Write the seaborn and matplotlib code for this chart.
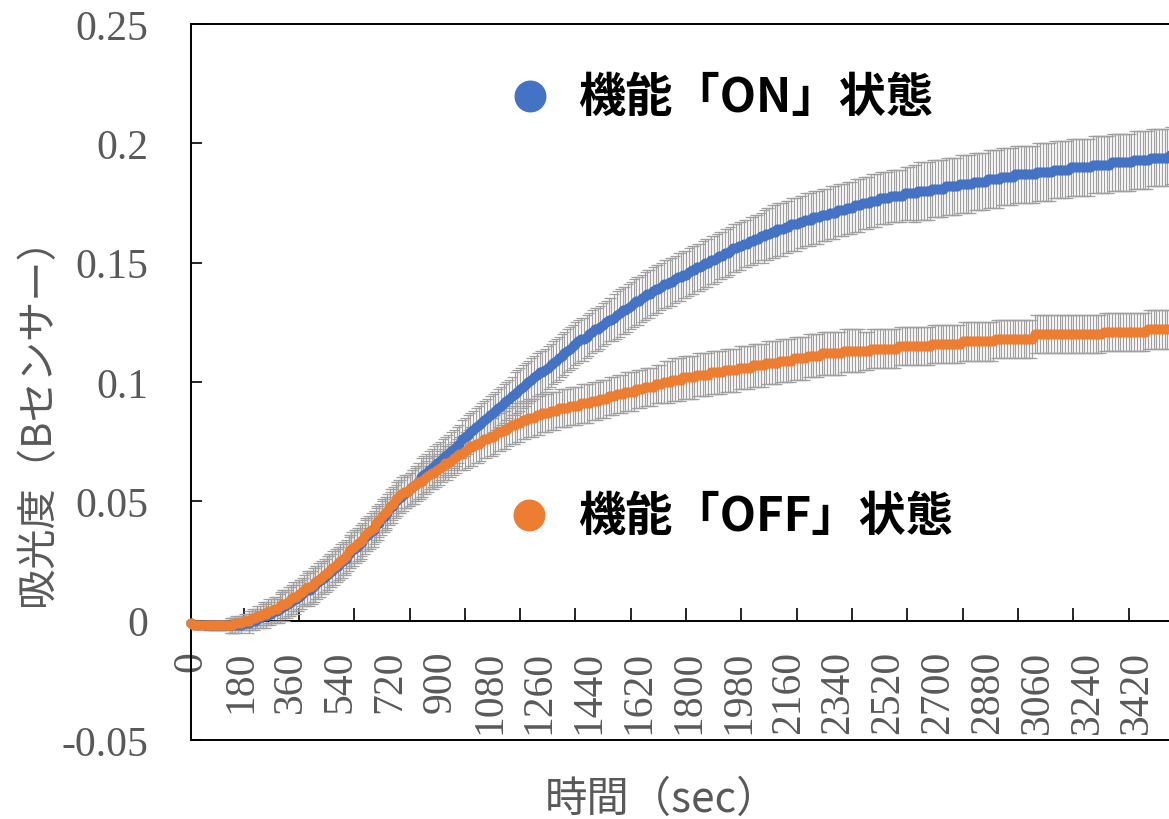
import numpy as np
import pandas as pd
import matplotlib
matplotlib.use("Agg")
import matplotlib.pyplot as plt
import seaborn as sns

# ---------------- data (absorbance, B sensor), one value every 10 s ----------------
time_step_sec = 10
on_mean = [
    -0.001, -0.002, -0.002, -0.002, -0.002, -0.002, -0.002, -0.002, -0.002, -0.002, -0.002, -0.002, -0.002, -0.002, -0.002, -0.002, -0.002, -0.002,
    -0.002, -0.001, -0.001, -0.001, 0.000, 0.000, 0.001, 0.001, 0.002, 0.002, 0.003, 0.003, 0.004, 0.004, 0.005, 0.006, 0.006, 0.007,
    0.008, 0.009, 0.009, 0.010, 0.011, 0.012, 0.013, 0.013, 0.014, 0.015, 0.016, 0.017, 0.018, 0.019, 0.020, 0.021, 0.022, 0.023,
    0.024, 0.025, 0.026, 0.028, 0.029, 0.030, 0.031, 0.032, 0.033, 0.035, 0.036, 0.037, 0.038, 0.040, 0.041, 0.043, 0.044, 0.045,
    0.047, 0.048, 0.050, 0.051, 0.052, 0.053, 0.054, 0.055, 0.056, 0.057, 0.058, 0.060, 0.061, 0.062, 0.063, 0.064, 0.065, 0.066,
    0.067, 0.068, 0.069, 0.070, 0.071, 0.072, 0.073, 0.074, 0.076, 0.077, 0.078, 0.079, 0.080, 0.081, 0.082, 0.083, 0.084, 0.085,
    0.086, 0.087, 0.088, 0.089, 0.090, 0.091, 0.092, 0.093, 0.094, 0.095, 0.096, 0.097, 0.098, 0.099, 0.100, 0.101, 0.102, 0.103,
    0.104, 0.104, 0.105, 0.106, 0.107, 0.108, 0.109, 0.110, 0.111, 0.112, 0.113, 0.114, 0.115, 0.116, 0.117, 0.118, 0.118, 0.119,
    0.120, 0.121, 0.122, 0.122, 0.123, 0.124, 0.125, 0.126, 0.126, 0.127, 0.128, 0.129, 0.130, 0.130, 0.131, 0.132, 0.133, 0.134,
    0.134, 0.135, 0.136, 0.137, 0.137, 0.138, 0.139, 0.139, 0.140, 0.141, 0.141, 0.142, 0.142, 0.143, 0.144, 0.144, 0.145, 0.145,
    0.146, 0.147, 0.147, 0.148, 0.148, 0.149, 0.150, 0.150, 0.151, 0.151, 0.152, 0.153, 0.153, 0.154, 0.154, 0.155, 0.156, 0.156,
    0.157, 0.157, 0.158, 0.158, 0.159, 0.159, 0.160, 0.160, 0.161, 0.161, 0.162, 0.162, 0.163, 0.163, 0.164, 0.164, 0.164, 0.165,
    0.165, 0.166, 0.166, 0.166, 0.167, 0.167, 0.168, 0.168, 0.168, 0.169, 0.169, 0.169, 0.170, 0.170, 0.170, 0.171, 0.171, 0.171,
    0.172, 0.172, 0.172, 0.173, 0.173, 0.173, 0.174, 0.174, 0.174, 0.175, 0.175, 0.175, 0.176, 0.176, 0.176, 0.177, 0.177, 0.177,
    0.177, 0.178, 0.178, 0.178, 0.178, 0.178, 0.179, 0.179, 0.179, 0.179, 0.179, 0.180, 0.180, 0.180, 0.180, 0.180, 0.181, 0.181,
    0.181, 0.181, 0.181, 0.182, 0.182, 0.182, 0.182, 0.182, 0.183, 0.183, 0.183, 0.183, 0.183, 0.184, 0.184, 0.184, 0.184, 0.184,
    0.185, 0.185, 0.185, 0.185, 0.185, 0.186, 0.186, 0.186, 0.186, 0.186, 0.187, 0.187, 0.187, 0.187, 0.187, 0.187, 0.187, 0.187,
    0.188, 0.188, 0.188, 0.188, 0.188, 0.188, 0.189, 0.189, 0.189, 0.189, 0.189, 0.189, 0.190, 0.190, 0.190, 0.190, 0.190, 0.190,
    0.190, 0.190, 0.191, 0.191, 0.191, 0.191, 0.191, 0.191, 0.191, 0.192, 0.192, 0.192, 0.192, 0.192, 0.192, 0.192, 0.192, 0.193,
    0.193, 0.193, 0.193, 0.193, 0.193, 0.194, 0.194, 0.194, 0.194, 0.194, 0.194, 0.194, 0.195,
]
on_err = [
    0.001, 0.001, 0.001, 0.001, 0.001, 0.001, 0.002, 0.002, 0.002, 0.002, 0.002, 0.002, 0.002, 0.002, 0.003, 0.003, 0.003, 0.003,
    0.003, 0.003, 0.003, 0.004, 0.004, 0.004, 0.004, 0.004, 0.005, 0.005, 0.005, 0.005, 0.005, 0.005, 0.006, 0.006, 0.006, 0.006,
    0.006, 0.006, 0.006, 0.006, 0.006, 0.006, 0.007, 0.007, 0.007, 0.007, 0.007, 0.007, 0.007, 0.007, 0.007, 0.007, 0.007, 0.007,
    0.007, 0.007, 0.007, 0.007, 0.007, 0.007, 0.007, 0.007, 0.007, 0.007, 0.007, 0.007, 0.007, 0.007, 0.007, 0.007, 0.007, 0.007,
    0.007, 0.007, 0.007, 0.007, 0.007, 0.007, 0.007, 0.007, 0.007, 0.008, 0.008, 0.008, 0.008, 0.008, 0.008, 0.008, 0.008, 0.008,
    0.008, 0.008, 0.008, 0.008, 0.008, 0.008, 0.008, 0.008, 0.008, 0.008, 0.008, 0.008, 0.008, 0.008, 0.008, 0.008, 0.008, 0.008,
    0.008, 0.008, 0.008, 0.008, 0.008, 0.008, 0.008, 0.008, 0.008, 0.009, 0.009, 0.009, 0.009, 0.009, 0.009, 0.009, 0.009, 0.009,
    0.009, 0.009, 0.009, 0.009, 0.009, 0.009, 0.009, 0.009, 0.009, 0.009, 0.009, 0.009, 0.009, 0.009, 0.009, 0.009, 0.009, 0.009,
    0.009, 0.009, 0.009, 0.009, 0.009, 0.009, 0.009, 0.009, 0.009, 0.010, 0.010, 0.010, 0.010, 0.010, 0.010, 0.010, 0.010, 0.010,
    0.010, 0.010, 0.010, 0.010, 0.010, 0.010, 0.010, 0.010, 0.010, 0.010, 0.010, 0.010, 0.010, 0.010, 0.010, 0.010, 0.010, 0.010,
    0.010, 0.010, 0.010, 0.010, 0.010, 0.010, 0.010, 0.010, 0.010, 0.010, 0.010, 0.010, 0.010, 0.010, 0.010, 0.010, 0.010, 0.010,
    0.010, 0.010, 0.010, 0.010, 0.010, 0.010, 0.010, 0.010, 0.010, 0.011, 0.011, 0.011, 0.011, 0.011, 0.011, 0.011, 0.011, 0.011,
    0.011, 0.011, 0.011, 0.011, 0.011, 0.011, 0.011, 0.011, 0.011, 0.011, 0.011, 0.011, 0.011, 0.011, 0.011, 0.011, 0.011, 0.011,
    0.011, 0.011, 0.011, 0.011, 0.011, 0.011, 0.011, 0.011, 0.011, 0.011, 0.011, 0.011, 0.011, 0.011, 0.011, 0.011, 0.011, 0.011,
    0.011, 0.011, 0.011, 0.011, 0.011, 0.011, 0.011, 0.011, 0.011, 0.012, 0.012, 0.012, 0.012, 0.012, 0.012, 0.012, 0.012, 0.012,
    0.012, 0.012, 0.012, 0.012, 0.012, 0.012, 0.012, 0.012, 0.012, 0.012, 0.012, 0.012, 0.012, 0.012, 0.012, 0.012, 0.012, 0.012,
    0.012, 0.012, 0.012, 0.012, 0.012, 0.012, 0.012, 0.012, 0.012, 0.012, 0.012, 0.012, 0.012, 0.012, 0.012, 0.012, 0.012, 0.012,
    0.012, 0.012, 0.012, 0.012, 0.012, 0.012, 0.012, 0.012, 0.012, 0.012, 0.012, 0.012, 0.012, 0.012, 0.012, 0.012, 0.012, 0.012,
    0.012, 0.012, 0.012, 0.012, 0.012, 0.012, 0.012, 0.012, 0.012, 0.012, 0.012, 0.012, 0.012, 0.012, 0.012, 0.012, 0.012, 0.012,
    0.012, 0.012, 0.012, 0.012, 0.012, 0.012, 0.012, 0.012, 0.012, 0.012, 0.012, 0.012, 0.012,
]
off_mean = [
    -0.001, -0.002, -0.002, -0.002, -0.002, -0.002, -0.002, -0.002, -0.002, -0.002, -0.002, -0.002, -0.002, -0.002, -0.002, -0.002, -0.001, -0.001,
    -0.001, 0.000, 0.000, 0.000, 0.001, 0.001, 0.002, 0.002, 0.003, 0.003, 0.004, 0.004, 0.005, 0.005, 0.006, 0.007, 0.007, 0.008,
    0.009, 0.010, 0.010, 0.011, 0.012, 0.013, 0.014, 0.014, 0.015, 0.016, 0.017, 0.018, 0.019, 0.020, 0.021, 0.022, 0.023, 0.024,
    0.025, 0.026, 0.027, 0.029, 0.030, 0.031, 0.032, 0.033, 0.034, 0.036, 0.037, 0.038, 0.039, 0.041, 0.042, 0.044, 0.045, 0.046,
    0.048, 0.049, 0.051, 0.052, 0.053, 0.054, 0.054, 0.055, 0.056, 0.057, 0.058, 0.058, 0.059, 0.060, 0.061, 0.062, 0.062, 0.063,
    0.064, 0.065, 0.066, 0.066, 0.067, 0.068, 0.069, 0.070, 0.070, 0.071, 0.072, 0.073, 0.073, 0.074, 0.074, 0.075, 0.076, 0.076,
    0.077, 0.077, 0.078, 0.079, 0.079, 0.080, 0.080, 0.081, 0.082, 0.082, 0.083, 0.083, 0.084, 0.084, 0.085, 0.085, 0.085, 0.086,
    0.086, 0.087, 0.087, 0.087, 0.088, 0.088, 0.088, 0.089, 0.089, 0.089, 0.089, 0.090, 0.090, 0.090, 0.090, 0.091, 0.091, 0.091,
    0.091, 0.092, 0.092, 0.092, 0.093, 0.093, 0.093, 0.094, 0.094, 0.094, 0.095, 0.095, 0.095, 0.096, 0.096, 0.096, 0.096, 0.097,
    0.097, 0.097, 0.098, 0.098, 0.098, 0.098, 0.099, 0.099, 0.099, 0.100, 0.100, 0.100, 0.101, 0.101, 0.101, 0.101, 0.102, 0.102,
    0.102, 0.102, 0.102, 0.103, 0.103, 0.103, 0.103, 0.103, 0.104, 0.104, 0.104, 0.104, 0.104, 0.105, 0.105, 0.105, 0.105, 0.105,
    0.106, 0.106, 0.106, 0.106, 0.106, 0.107, 0.107, 0.107, 0.107, 0.107, 0.108, 0.108, 0.108, 0.108, 0.108, 0.109, 0.109, 0.109,
    0.109, 0.109, 0.110, 0.110, 0.110, 0.110, 0.110, 0.111, 0.111, 0.111, 0.111, 0.111, 0.112, 0.112, 0.112, 0.112, 0.112, 0.112,
    0.112, 0.112, 0.113, 0.113, 0.113, 0.113, 0.113, 0.113, 0.113, 0.113, 0.113, 0.113, 0.114, 0.114, 0.114, 0.114, 0.114, 0.114,
    0.114, 0.114, 0.114, 0.114, 0.115, 0.115, 0.115, 0.115, 0.115, 0.115, 0.115, 0.115, 0.115, 0.115, 0.115, 0.115, 0.116, 0.116,
    0.116, 0.116, 0.116, 0.116, 0.116, 0.116, 0.116, 0.116, 0.116, 0.117, 0.117, 0.117, 0.117, 0.117, 0.117, 0.117, 0.117, 0.117,
    0.117, 0.117, 0.117, 0.118, 0.118, 0.118, 0.118, 0.118, 0.118, 0.118, 0.118, 0.118, 0.118, 0.118, 0.118, 0.118, 0.118, 0.120,
    0.120, 0.120, 0.120, 0.120, 0.120, 0.120, 0.120, 0.120, 0.120, 0.120, 0.120, 0.120, 0.120, 0.120, 0.120, 0.120, 0.120, 0.120,
    0.120, 0.120, 0.120, 0.120, 0.120, 0.120, 0.121, 0.121, 0.121, 0.121, 0.121, 0.121, 0.121, 0.121, 0.121, 0.121, 0.121, 0.121,
    0.121, 0.121, 0.121, 0.121, 0.122, 0.122, 0.122, 0.122, 0.122, 0.122, 0.122, 0.122, 0.122,
]
off_err = [
    0.001, 0.001, 0.001, 0.001, 0.001, 0.001, 0.002, 0.002, 0.002, 0.002, 0.002, 0.002, 0.002, 0.002, 0.003, 0.003, 0.003, 0.003,
    0.003, 0.003, 0.003, 0.004, 0.004, 0.004, 0.004, 0.004, 0.005, 0.005, 0.005, 0.005, 0.005, 0.005, 0.006, 0.006, 0.006, 0.006,
    0.006, 0.006, 0.006, 0.006, 0.006, 0.006, 0.007, 0.007, 0.007, 0.007, 0.007, 0.007, 0.007, 0.007, 0.007, 0.007, 0.007, 0.007,
    0.007, 0.007, 0.007, 0.007, 0.007, 0.007, 0.007, 0.007, 0.007, 0.007, 0.007, 0.007, 0.007, 0.007, 0.007, 0.007, 0.007, 0.007,
    0.007, 0.007, 0.007, 0.007, 0.007, 0.007, 0.007, 0.007, 0.007, 0.007, 0.007, 0.007, 0.007, 0.007, 0.007, 0.007, 0.007, 0.007,
    0.007, 0.007, 0.007, 0.007, 0.007, 0.007, 0.007, 0.007, 0.007, 0.008, 0.008, 0.008, 0.008, 0.008, 0.008, 0.008, 0.008, 0.008,
    0.008, 0.008, 0.008, 0.008, 0.008, 0.008, 0.008, 0.008, 0.008, 0.008, 0.008, 0.008, 0.008, 0.008, 0.008, 0.008, 0.008, 0.008,
    0.008, 0.008, 0.008, 0.008, 0.008, 0.008, 0.008, 0.008, 0.008, 0.008, 0.008, 0.008, 0.008, 0.008, 0.008, 0.008, 0.008, 0.008,
    0.008, 0.008, 0.008, 0.008, 0.008, 0.008, 0.008, 0.008, 0.008, 0.008, 0.008, 0.008, 0.008, 0.008, 0.008, 0.008, 0.008, 0.008,
    0.008, 0.008, 0.008, 0.008, 0.008, 0.008, 0.008, 0.008, 0.008, 0.009, 0.009, 0.009, 0.009, 0.009, 0.009, 0.009, 0.009, 0.009,
    0.009, 0.009, 0.009, 0.009, 0.009, 0.009, 0.009, 0.009, 0.009, 0.009, 0.009, 0.009, 0.009, 0.009, 0.009, 0.009, 0.009, 0.009,
    0.009, 0.009, 0.009, 0.009, 0.009, 0.009, 0.009, 0.009, 0.009, 0.009, 0.009, 0.009, 0.009, 0.009, 0.009, 0.009, 0.009, 0.009,
    0.009, 0.009, 0.009, 0.009, 0.009, 0.009, 0.009, 0.009, 0.009, 0.009, 0.009, 0.009, 0.009, 0.009, 0.009, 0.009, 0.009, 0.009,
    0.009, 0.009, 0.009, 0.009, 0.009, 0.009, 0.009, 0.009, 0.009, 0.008, 0.008, 0.008, 0.008, 0.008, 0.008, 0.008, 0.008, 0.008,
    0.008, 0.008, 0.008, 0.008, 0.008, 0.008, 0.008, 0.008, 0.008, 0.008, 0.008, 0.008, 0.008, 0.008, 0.008, 0.008, 0.008, 0.008,
    0.008, 0.008, 0.008, 0.008, 0.008, 0.008, 0.008, 0.008, 0.008, 0.008, 0.008, 0.008, 0.008, 0.008, 0.008, 0.008, 0.008, 0.008,
    0.008, 0.008, 0.008, 0.008, 0.008, 0.008, 0.008, 0.008, 0.008, 0.008, 0.008, 0.008, 0.008, 0.008, 0.008, 0.008, 0.008, 0.008,
    0.008, 0.008, 0.008, 0.008, 0.008, 0.008, 0.008, 0.008, 0.008, 0.008, 0.008, 0.008, 0.008, 0.008, 0.008, 0.008, 0.008, 0.008,
    0.008, 0.008, 0.008, 0.008, 0.008, 0.008, 0.008, 0.008, 0.008, 0.008, 0.008, 0.008, 0.008, 0.008, 0.008, 0.008, 0.008, 0.008,
    0.008, 0.008, 0.008, 0.008, 0.008, 0.008, 0.008, 0.008, 0.008, 0.008, 0.008, 0.008, 0.008,
]
series_names = ["機能「ON」状態", "機能「OFF」状態"]
series_colors = ["#4472C4", "#ED7D31"]
x_tick_labels = ["0", "180", "360", "540", "720", "900", "1080", "1260", "1440", "1620",
                 "1800", "1980", "2160", "2340", "2520", "2700", "2880", "3060", "3240", "3420"]
y_tick_values = [-0.05, 0, 0.05, 0.1, 0.15, 0.2, 0.25]
y_tick_labels = ["-0.05", "0", "0.05", "0.1", "0.15", "0.2", "0.25"]
x_label = "時間（sec）"
y_label = "吸光度（Bセンサー）"

# ---------------- build long table ----------------
n = len(on_mean)
assert n == len(off_mean) == len(on_err) == len(off_err)
time_sec = np.arange(n) * time_step_sec
df = pd.concat([
    pd.DataFrame({"time": time_sec, "value": on_mean, "err": on_err, "state": series_names[0]}),
    pd.DataFrame({"time": time_sec, "value": off_mean, "err": off_err, "state": series_names[1]}),
], ignore_index=True)

sns.set_style("white")
plt.rcParams["font.family"] = ["Noto Sans CJK JP", "DejaVu Sans"]

W, H = 1169, 820
fig = plt.figure(figsize=(W / 100, H / 100), dpi=100)
fig.patch.set_facecolor("white")

px_per_sec = (1137 - 191) / 3420.0
x_max = 3600
ax = fig.add_axes([191 / W, (H - 741) / H, x_max * px_per_sec / W, (741 - 25) / H])

# error bars (behind lines)
for name in series_names:
    d = df[df["state"] == name]
    ax.errorbar(d["time"], d["value"], yerr=d["err"], fmt="none", ecolor="#A0A0A0",
                elinewidth=0.9, capsize=3.4, capthick=0.9, zorder=1.5, clip_on=False)

palette = dict(zip(series_names, series_colors))
sns.lineplot(data=df, x="time", y="value", hue="state", hue_order=series_names,
             palette=palette, marker="o", markersize=7.3, markeredgewidth=0,
             linewidth=3.6, legend=False, errorbar=None, sort=False, ax=ax)
for ln in ax.lines:
    ln.set_clip_on(False)
    ln.set_zorder(3)

ax.set_xlim(0, x_max)
ax.set_ylim(-0.05, 0.25)
ax.set_xlabel("")
ax.set_ylabel("")

# axes/spines
for s in ["left", "top", "right"]:
    ax.spines[s].set_color("black")
    ax.spines[s].set_linewidth(1.4)
ax.spines["bottom"].set_position(("data", 0))
ax.spines["bottom"].set_color("black")
ax.spines["bottom"].set_linewidth(1.4)
ax.plot([0, 1], [0, 0], transform=ax.transAxes, color="black", lw=1.4, clip_on=False, zorder=5)

ax.set_yticks(y_tick_values)
ax.set_yticklabels(y_tick_labels, fontfamily="Liberation Serif")
ax.tick_params(axis="y", direction="in", length=8, width=1.2, pad=31,
               labelsize=30, labelcolor="#595959", color="black", left=True)

xt = [int(v) for v in x_tick_labels]
ax.set_xticks(xt)
ax.set_xticklabels(x_tick_labels, fontfamily="Liberation Serif", rotation=90)
ax.set_xticks(np.arange(190, x_max, 200), minor=True)
ax.tick_params(axis="x", which="major", length=0, pad=21, labelsize=30, labelcolor="#595959", bottom=True)
ax.tick_params(axis="x", which="minor", direction="in", length=9.5, width=1.2, color="black", bottom=True)
ax.grid(False)

# axis titles
fig.text(38 / W, 1 - 412 / H, y_label, rotation=90, ha="center", va="center",
         fontsize=29, color="#595959")
fig.text(662 / W, 1 - 800 / H, x_label, ha="center", va="center",
         fontsize=30.5, color="#595959")

# series labels with big markers
legend_pos = [(530, 97), (529, 516)]
for name, col, (mx, my) in zip(series_names, series_colors, legend_pos):
    ax.plot([mx / W], [1 - my / H], marker="o", ms=23, color=col, mew=0,
            transform=fig.transFigure, clip_on=False)
    fig.text(578 / W, 1 - (my + 1) / H, name, ha="left", va="center",
             fontsize=34, fontweight="bold", color="black")

fig.savefig("out.png", dpi=100, facecolor="white")
